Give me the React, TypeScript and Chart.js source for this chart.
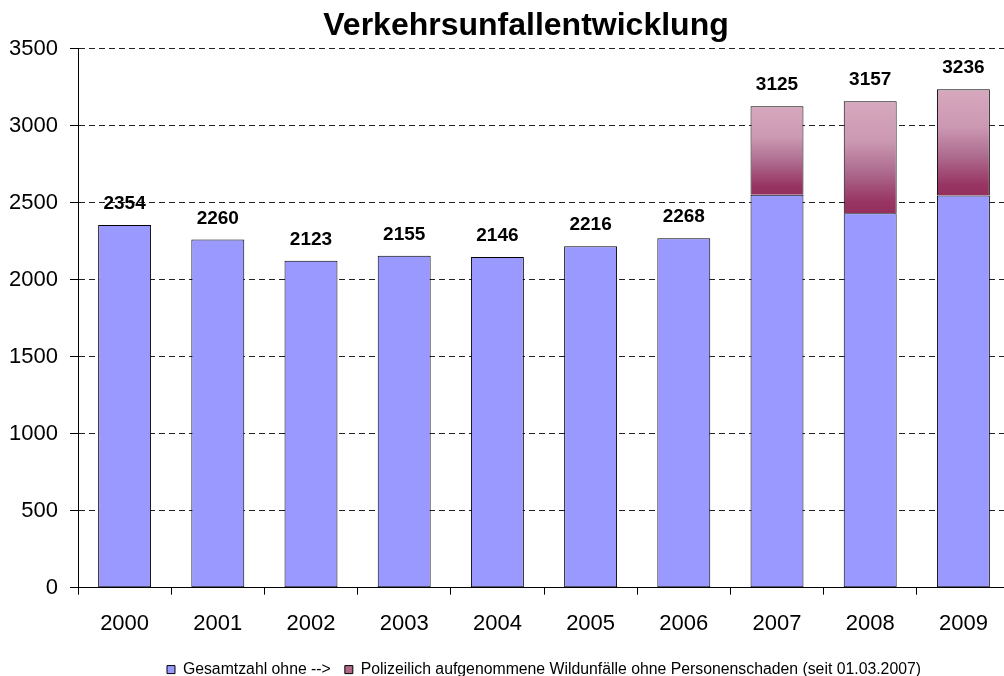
import React, { useEffect, useRef } from 'react';
import { Chart, registerables } from 'chart.js';

Chart.register(...registerables);

const chartTitle = 'Verkehrsunfallentwicklung';
const years = ['2000', '2001', '2002', '2003', '2004', '2005', '2006', '2007', '2008', '2009'];
const gesamtzahl = [2354, 2260, 2123, 2155, 2146, 2216, 2268, 2550, 2431, 2545];
const wildunfaelle = [null, null, null, null, null, null, null, 575, 726, 691];
const seriesNames = [
  'Gesamtzahl ohne -->',
  'Polizeilich aufgenommene Wildunfälle ohne Personenschaden (seit 01.03.2007)',
];
const yMin = 0;
const yMax = 3500;
const yStep = 500;

const FONT = "'Liberation Sans', Arial, Helvetica, sans-serif";
const BASE_COLOR = '#9999FF';
const WILD_COLOR = '#b06888';

export default function App() {
  const ref = useRef<HTMLCanvasElement>(null);

  useEffect(() => {
    const canvas = ref.current;
    if (!canvas) return;

    const wildFill = (ctx: any) => {
      const chart = ctx.chart;
      const y = chart.scales && chart.scales.y;
      const i = ctx.dataIndex;
      if (!y || i == null || ctx.type !== 'data') return WILD_COLOR;
      const base = gesamtzahl[i];
      const extra = wildunfaelle[i];
      if (extra == null) return WILD_COLOR;
      const y0 = y.getPixelForValue(base + extra);
      const y1 = y.getPixelForValue(base);
      if (!isFinite(y0) || !isFinite(y1) || y0 === y1) return WILD_COLOR;
      const g = chart.ctx.createLinearGradient(0, y0, 0, y1);
      g.addColorStop(0, '#d6a8be');
      g.addColorStop(0.35, '#cc99b2');
      g.addColorStop(0.62, '#ae6d90');
      g.addColorStop(0.9, '#983462');
      g.addColorStop(1, '#95305e');
      return g;
    };

    const totalsPlugin = {
      id: 'totals',
      afterDatasetsDraw(chart: any) {
        const c = chart.ctx;
        const meta = chart.getDatasetMeta(0);
        const y = chart.scales.y;
        c.save();
        c.font = `bold 19px ${FONT}`;
        c.fillStyle = '#000';
        c.textAlign = 'center';
        c.textBaseline = 'alphabetic';
        years.forEach((_, i) => {
          const total = gesamtzahl[i] + (wildunfaelle[i] ?? 0);
          const el = meta.data[i];
          if (!el) return;
          const py = y.getPixelForValue(total);
          c.fillText(String(total), el.x, py - 16);
        });
        c.restore();
      },
    };

    const chart = new Chart(canvas, {
      type: 'bar',
      data: {
        labels: years,
        datasets: [
          {
            label: seriesNames[0],
            data: gesamtzahl,
            backgroundColor: BASE_COLOR,
            borderColor: '#000',
            borderWidth: 1,
            borderSkipped: false,
            categoryPercentage: 1,
            barPercentage: 0.568,
          },
          {
            label: seriesNames[1],
            data: wildunfaelle,
            backgroundColor: wildFill,
            borderColor: '#000',
            borderWidth: 1,
            borderSkipped: 'bottom',
            categoryPercentage: 1,
            barPercentage: 0.568,
          },
        ],
      },
      options: {
        responsive: false,
        maintainAspectRatio: false,
        devicePixelRatio: 1,
        animation: false,
        events: [],
        layout: { padding: { left: 42, right: 32, top: 0, bottom: 12.5 } },
        plugins: {
          title: {
            display: true,
            text: chartTitle,
            color: '#000',
            font: { family: FONT, size: 32, weight: 'bold', lineHeight: 1.2 },
            padding: { top: 7.4, bottom: 2.7 },
          },
          legend: {
            display: true,
            position: 'bottom',
            fullSize: false,
            labels: {
              color: '#000',
              font: { family: FONT, size: 15.8 },
              boxWidth: 8,
              boxHeight: 8,
              padding: 14,
              generateLabels: () => [
                { text: seriesNames[0], fillStyle: BASE_COLOR, strokeStyle: '#000', lineWidth: 1, hidden: false, datasetIndex: 0, fontColor: '#000' },
                { text: seriesNames[1], fillStyle: WILD_COLOR, strokeStyle: '#000', lineWidth: 1, hidden: false, datasetIndex: 1, fontColor: '#000' },
              ],
            },
          },
          tooltip: { enabled: false },
        },
        scales: {
          x: {
            stacked: true,
            grid: {
              offset: true,
              drawOnChartArea: false,
              drawTicks: true,
              tickLength: 7,
              color: '#000',
              tickColor: '#000',
              lineWidth: 1,
            },
            border: { display: true, color: '#000', width: 1 },
            ticks: {
              color: '#000',
              font: { family: FONT, size: 22 },
              padding: 16,
              maxRotation: 0,
              autoSkip: false,
            },
            afterFit: (s: any) => {
              s.height = 60;
            },
          },
          y: {
            stacked: true,
            min: yMin,
            max: yMax,
            ticks: {
              stepSize: yStep,
              color: '#000',
              font: { family: FONT, size: 22 },
              padding: 12,
              callback: (v: any) => String(v),
            },
            grid: {
              color: '#222',
              lineWidth: 1,
              drawTicks: true,
              tickLength: 8,
              tickColor: '#000',
              tickBorderDash: [],
            },
            border: { display: true, color: '#000', width: 1, dash: [6, 4] },
            afterFit: (s: any) => {
              s.width = 36;
              s._computeLabelArea = () => undefined;
            },
          },
        },
      },
      plugins: [totalsPlugin],
    } as any);

    return () => chart.destroy();
  }, []);

  return (
    <div
      style={{
        position: 'fixed',
        left: 0,
        top: 0,
        width: 1004,
        height: 676,
        overflow: 'hidden',
        background: '#fff',
      }}
    >
      <canvas ref={ref} width={1042} height={700} style={{ display: 'block', width: 1042, height: 700 }} />
    </div>
  );
}
